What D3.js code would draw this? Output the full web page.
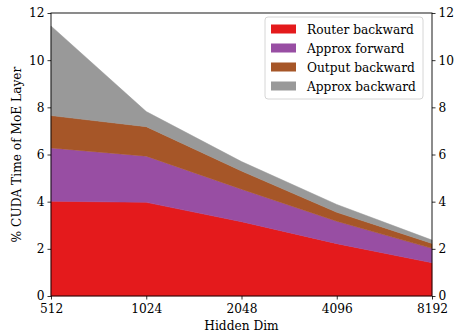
<!DOCTYPE html>
<html>
<head>
<meta charset="utf-8">
<script src="https://cdn.jsdelivr.net/npm/d3@7/dist/d3.min.js"></script>
<style>
  html, body { margin: 0; padding: 0; background: #fff; }
  svg { display: block; }
  text { font-family: "DejaVu Serif", serif; }
</style>
</head>
<body>
<svg id="chart" width="457" height="333"></svg>
<script>
// Hidden dimension categories
const hiddenDims = ["512", "1024", "2048", "4096", "8192"];
// Share of MoE layer CUDA time (%) per component
const routerBackward = [4.02, 3.97, 3.15, 2.22, 1.41];
const approxForward  = [2.26, 1.96, 1.38, 0.95, 0.61];
const outputBackward = [1.37, 1.25, 0.77, 0.38, 0.21];
const approxBackward = [3.80, 0.64, 0.40, 0.33, 0.14];
const seriesNames = ["Router backward", "Approx forward", "Output backward", "Approx backward"];
const seriesColors = ["#e41a1c", "#984ea3", "#a65628", "#999999"];
const yTicks = [0, 2, 4, 6, 8, 10, 12];

const svg = d3.select("#chart");
const margin = { left: 51, right: 25, top: 13, bottom: 37 };
const W = 457, H = 333;
const iw = W - margin.left - margin.right;
const ih = H - margin.top - margin.bottom;

const x = d3.scalePoint().domain(hiddenDims).range([0, iw]);
const y = d3.scaleLinear().domain([0, 12]).range([ih, 0]);

const rows = hiddenDims.map((d, i) => ({
  dim: d,
  "Router backward": routerBackward[i],
  "Approx forward": approxForward[i],
  "Output backward": outputBackward[i],
  "Approx backward": approxBackward[i]
}));
const stacked = d3.stack().keys(seriesNames)(rows);

const g = svg.append("g").attr("transform", `translate(${margin.left},${margin.top})`);

const area = d3.area()
  .x(d => x(d.data.dim))
  .y0(d => y(d[0]))
  .y1(d => y(d[1]));

g.selectAll("path.layer").data(stacked).join("path")
  .attr("class", "layer")
  .attr("d", area)
  .attr("fill", (d, i) => seriesColors[i])
  .attr("stroke", (d, i) => seriesColors[i])
  .attr("stroke-width", 0.5);

// Axes
const fontSize = 12.2;
function styleAxis(sel) {
  sel.selectAll("text").attr("font-family", "DejaVu Serif").attr("font-size", fontSize).attr("fill", "#000");
  sel.selectAll("line").attr("stroke", "#000").attr("stroke-width", 0.8);
  sel.select(".domain").remove();
}
g.append("g").attr("transform", `translate(0,${ih})`)
  .call(d3.axisBottom(x).tickSize(3.5).tickPadding(4.5)).call(styleAxis);
g.append("g")
  .call(d3.axisLeft(y).tickValues(yTicks).tickFormat(d3.format("d")).tickSize(3.5).tickPadding(3)).call(styleAxis);
g.append("g").attr("transform", `translate(${iw},0)`)
  .call(d3.axisRight(y).tickValues(yTicks).tickFormat(d3.format("d")).tickSize(3.5).tickPadding(3)).call(styleAxis);

// Frame
g.append("rect").attr("x", 0).attr("y", 0).attr("width", iw).attr("height", ih)
  .attr("fill", "none").attr("stroke", "#000").attr("stroke-width", 0.9);

// Axis labels
svg.append("text")
  .attr("x", margin.left + iw / 2).attr("y", 330)
  .attr("text-anchor", "middle").attr("font-size", fontSize)
  .text("Hidden Dim");
svg.append("text")
  .attr("transform", `translate(21,${margin.top + ih / 2}) rotate(-90)`)
  .attr("text-anchor", "middle").attr("font-size", fontSize)
  .text("% CUDA Time of MoE Layer");

// Legend
const lg = svg.append("g").attr("transform", "translate(265,17)");
lg.append("rect").attr("x", 0).attr("y", 0).attr("width", 158).attr("height", 82)
  .attr("rx", 3).attr("fill", "#fff").attr("fill-opacity", 0.8)
  .attr("stroke", "#ccc").attr("stroke-width", 0.8);
seriesNames.forEach((name, i) => {
  const yy = 12 + i * 19;
  lg.append("rect").attr("x", 6).attr("y", yy - 4.5).attr("width", 25).attr("height", 9)
    .attr("fill", seriesColors[i]);
  lg.append("text").attr("x", 42).attr("y", yy + 4.5)
    .attr("font-size", fontSize).text(name);
});
</script>
</body>
</html>
